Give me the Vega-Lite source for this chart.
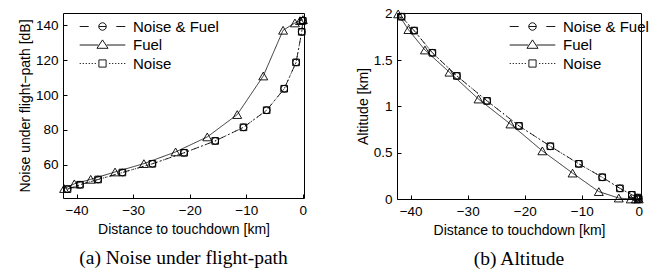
{
  "$schema": "https://vega.github.io/schema/vega-lite/v6.json",
  "padding": {"left": 17, "top": 6, "right": 4, "bottom": 0},
  "background": "white",
  "config": {
    "font": "Liberation Sans",
    "view": {"stroke": "black", "strokeWidth": 1},
    "axis": {
      "domain": false,
      "grid": false,
      "ticks": true,
      "tickSize": -4,
      "tickColor": "black",
      "labelPadding": 9,
      "labelFont": "Liberation Sans",
      "labelFontSize": 13.5,
      "labelColor": "black",
      "titleFont": "Liberation Sans",
      "titleFontSize": 14,
      "titleFontWeight": "normal",
      "titleColor": "black",
      "titlePadding": 3
    },
    "axisX": {"titlePadding": 6, "labelExpr": "replace(datum.label, '-', '\u2212')"}
  },
  "datasets": {
    "traj": [
      {"series": "Noise & Fuel", "d": -41.6, "noise": 46.1, "alt": 1.97},
      {"series": "Noise & Fuel", "d": -39.4, "noise": 48.6, "alt": 1.82},
      {"series": "Noise & Fuel", "d": -36.2, "noise": 51.6, "alt": 1.58},
      {"series": "Noise & Fuel", "d": -31.9, "noise": 55.6, "alt": 1.33},
      {"series": "Noise & Fuel", "d": -26.6, "noise": 60.6, "alt": 1.06},
      {"series": "Noise & Fuel", "d": -21.0, "noise": 66.9, "alt": 0.79},
      {"series": "Noise & Fuel", "d": -15.5, "noise": 73.7, "alt": 0.57},
      {"series": "Noise & Fuel", "d": -10.5, "noise": 81.5, "alt": 0.38},
      {"series": "Noise & Fuel", "d": -6.4, "noise": 91.3, "alt": 0.235},
      {"series": "Noise & Fuel", "d": -3.3, "noise": 103.6, "alt": 0.115},
      {"series": "Noise & Fuel", "d": -1.2, "noise": 118.7, "alt": 0.045},
      {"series": "Noise & Fuel", "d": -0.2, "noise": 136.2, "alt": 0.015},
      {"series": "Noise & Fuel", "d": 0.0, "noise": 142.5, "alt": 0.0},
      {"series": "Fuel", "d": -42.2, "noise": 46.4, "alt": 2.0},
      {"series": "Fuel", "d": -40.4, "noise": 49.1, "alt": 1.83},
      {"series": "Fuel", "d": -37.5, "noise": 51.7, "alt": 1.61},
      {"series": "Fuel", "d": -33.2, "noise": 55.9, "alt": 1.37},
      {"series": "Fuel", "d": -28.1, "noise": 60.7, "alt": 1.08},
      {"series": "Fuel", "d": -22.5, "noise": 67.4, "alt": 0.81},
      {"series": "Fuel", "d": -16.9, "noise": 76.0, "alt": 0.52},
      {"series": "Fuel", "d": -11.6, "noise": 88.8, "alt": 0.28},
      {"series": "Fuel", "d": -7.0, "noise": 110.9, "alt": 0.08},
      {"series": "Fuel", "d": -3.5, "noise": 137.1, "alt": 0.01},
      {"series": "Fuel", "d": -1.4, "noise": 141.3, "alt": 0.0},
      {"series": "Fuel", "d": -0.5, "noise": 142.6, "alt": 0.0},
      {"series": "Fuel", "d": 0.0, "noise": 143.2, "alt": 0.0},
      {"series": "Noise", "d": -41.6, "noise": 46.1, "alt": 1.97},
      {"series": "Noise", "d": -39.4, "noise": 48.6, "alt": 1.82},
      {"series": "Noise", "d": -36.2, "noise": 51.6, "alt": 1.58},
      {"series": "Noise", "d": -31.9, "noise": 55.6, "alt": 1.33},
      {"series": "Noise", "d": -26.6, "noise": 60.6, "alt": 1.06},
      {"series": "Noise", "d": -21.0, "noise": 66.9, "alt": 0.79},
      {"series": "Noise", "d": -15.5, "noise": 73.7, "alt": 0.57},
      {"series": "Noise", "d": -10.5, "noise": 81.5, "alt": 0.38},
      {"series": "Noise", "d": -6.4, "noise": 91.3, "alt": 0.235},
      {"series": "Noise", "d": -3.3, "noise": 103.6, "alt": 0.115},
      {"series": "Noise", "d": -1.2, "noise": 118.7, "alt": 0.045},
      {"series": "Noise", "d": -0.2, "noise": 136.2, "alt": 0.015},
      {"series": "Noise", "d": 0.0, "noise": 142.5, "alt": 0.0}
    ]
  },
  "spacing": 45,
  "hconcat": [
    {
      "width": 241,
      "height": 185,
      "data": {"name": "traj"},
      "title": {"text": "(a) Noise under flight-path", "orient": "bottom", "frame": "group", "anchor": "middle", "font": "Liberation Serif", "fontSize": 19.5, "fontWeight": "normal", "color": "black", "offset": 12},
      "encoding": {
        "x": {"field": "d", "type": "quantitative", "title": "Distance to touchdown [km]", "scale": {"domain": [-42.4, 0.2], "nice": false, "zero": false}, "axis": {"values": [-40, -30, -20, -10, 0], "format": "d"}},
        "y": {"field": "noise", "type": "quantitative", "title": "Noise under flight\u2212path [dB]", "scale": {"domain": [41, 147], "nice": false, "zero": false}, "axis": {"values": [60, 80, 100, 120, 140], "format": "d"}}
      },
      "layer": [
        {"mark": {"type": "line", "color": "black", "strokeWidth": 0.8, "clip": false},
         "encoding": {"strokeDash": {"field": "series", "type": "nominal", "scale": {"domain": ["Noise & Fuel", "Fuel", "Noise"], "range": [[7, 3, 1.5, 3], [1, 0], [1.2, 2.5]]}, "legend": null}}},
        {"transform": [{"filter": "datum.series == 'Noise & Fuel'"}], "mark": {"type": "point", "shape": "circle", "filled": false, "color": "black", "size": 46, "strokeWidth": 1, "opacity": 1}, "encoding": {}},
        {"transform": [{"filter": "datum.series == 'Fuel'"}], "mark": {"type": "point", "shape": "triangle-up", "filled": false, "color": "black", "size": 80, "strokeWidth": 0.9, "opacity": 1}, "encoding": {}},
        {"transform": [{"filter": "datum.series == 'Noise'"}], "mark": {"type": "point", "shape": "square", "filled": false, "color": "black", "size": 44, "strokeWidth": 1, "opacity": 1}, "encoding": {}},
        {"transform": [{"filter": "false"}], "mark": {"type": "point", "filled": false, "color": "black", "strokeWidth": 0.9},
         "encoding": {"shape": {"field": "series", "type": "nominal",
           "scale": {"domain": ["Noise & Fuel", "Fuel", "Noise"], "range": [
             "M-7.6,0L-4.6,0M-1.25,0L1.25,0M4.6,0L7.6,0M1.25,0A1.25,1.25,0,1,1,-1.25,0A1.25,1.25,0,1,1,1.25,0",
             "M-7.6,0L-1.4,0M1.4,0L7.6,0M0,-1.7L1.85,1.1L-1.85,1.1Z",
             "M-7.6,0L-7.2,0M-6.6,0L-6.2,0M-5.6,0L-5.2,0M-4.6,0L-4.2,0M-3.6,0L-3.2,0M-2.6,0L-2.2,0M2.2,0L2.6,0M3.2,0L3.6,0M4.2,0L4.6,0M5.2,0L5.6,0M6.2,0L6.6,0M7.2,0L7.6,0M-1.2,-1.2L1.2,-1.2L1.2,1.2L-1.2,1.2Z"
           ]},
           "legend": {"orient": "none", "legendX": 32, "legendY": 6, "title": null, "padding": 0, "labelFont": "Liberation Sans", "labelFontSize": 15, "labelColor": "black", "labelOffset": 23, "labelLimit": 300, "symbolSize": 36, "symbolStrokeWidth": 0.9, "symbolStrokeColor": "black", "symbolFillColor": "transparent", "symbolOpacity": 1, "rowPadding": 2.5}}}}
      ],
      "resolve": {"scale": {"shape": "independent"}}
    },
    {
      "width": 244,
      "height": 186,
      "data": {"name": "traj"},
      "title": {"text": "(b) Altitude", "orient": "bottom", "frame": "group", "anchor": "middle", "font": "Liberation Serif", "fontSize": 19.5, "fontWeight": "normal", "color": "black", "offset": 12},
      "encoding": {
        "x": {"field": "d", "type": "quantitative", "title": "Distance to touchdown [km]", "scale": {"domain": [-42.4, 0.4], "nice": false, "zero": false}, "axis": {"values": [-40, -30, -20, -10, 0], "format": "d"}},
        "y": {"field": "alt", "type": "quantitative", "title": "Altitude [km]", "scale": {"domain": [0, 2.01], "nice": false, "zero": false}, "axis": {"values": [0, 0.5, 1, 1.5, 2], "format": "~g"}}
      },
      "layer": [
        {"mark": {"type": "line", "color": "black", "strokeWidth": 0.8, "clip": false},
         "encoding": {"strokeDash": {"field": "series", "type": "nominal", "scale": {"domain": ["Noise & Fuel", "Fuel", "Noise"], "range": [[7, 3, 1.5, 3], [1, 0], [1.2, 2.5]]}, "legend": null}}},
        {"transform": [{"filter": "datum.series == 'Noise & Fuel'"}], "mark": {"type": "point", "shape": "circle", "filled": false, "color": "black", "size": 46, "strokeWidth": 1, "opacity": 1}, "encoding": {}},
        {"transform": [{"filter": "datum.series == 'Fuel'"}], "mark": {"type": "point", "shape": "triangle-up", "filled": false, "color": "black", "size": 80, "strokeWidth": 0.9, "opacity": 1}, "encoding": {}},
        {"transform": [{"filter": "datum.series == 'Noise'"}], "mark": {"type": "point", "shape": "square", "filled": false, "color": "black", "size": 44, "strokeWidth": 1, "opacity": 1}, "encoding": {}},
        {"transform": [{"filter": "false"}], "mark": {"type": "point", "filled": false, "color": "black", "strokeWidth": 0.9},
         "encoding": {"shape": {"field": "series", "type": "nominal",
           "scale": {"domain": ["Noise & Fuel", "Fuel", "Noise"], "range": [
             "M-7.6,0L-4.6,0M-1.25,0L1.25,0M4.6,0L7.6,0M1.25,0A1.25,1.25,0,1,1,-1.25,0A1.25,1.25,0,1,1,1.25,0",
             "M-7.6,0L-1.4,0M1.4,0L7.6,0M0,-1.7L1.85,1.1L-1.85,1.1Z",
             "M-7.6,0L-7.2,0M-6.6,0L-6.2,0M-5.6,0L-5.2,0M-4.6,0L-4.2,0M-3.6,0L-3.2,0M-2.6,0L-2.2,0M2.2,0L2.6,0M3.2,0L3.6,0M4.2,0L4.6,0M5.2,0L5.6,0M6.2,0L6.6,0M7.2,0L7.6,0M-1.2,-1.2L1.2,-1.2L1.2,1.2L-1.2,1.2Z"
           ]},
           "legend": {"orient": "none", "legendX": 128, "legendY": 6, "title": null, "padding": 0, "labelFont": "Liberation Sans", "labelFontSize": 15, "labelColor": "black", "labelOffset": 23, "labelLimit": 300, "symbolSize": 36, "symbolStrokeWidth": 0.9, "symbolStrokeColor": "black", "symbolFillColor": "transparent", "symbolOpacity": 1, "rowPadding": 2.5}}}}
      ],
      "resolve": {"scale": {"shape": "independent"}}
    }
  ],
  "resolve": {"scale": {"x": "independent", "y": "independent", "shape": "independent", "strokeDash": "independent"}, "legend": {"shape": "independent"}}
}
